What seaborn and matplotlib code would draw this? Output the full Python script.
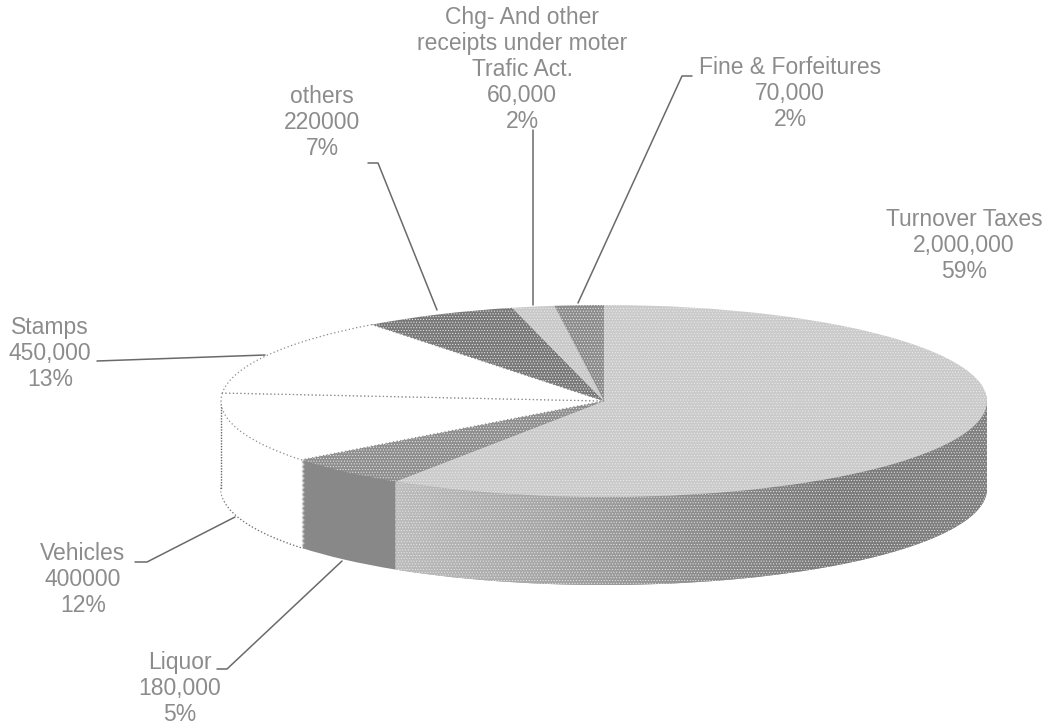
import numpy as np
import matplotlib
matplotlib.use("Agg")
import matplotlib.pyplot as plt
import seaborn as sns
from matplotlib.patches import Polygon

sns.set_style("white")
plt.rcParams["font.family"] = ["Liberation Sans", "DejaVu Sans"]
plt.rcParams["hatch.linewidth"] = 0.4

# revenue heads, clockwise from 12 o'clock
names = ["Turnover Taxes", "Liquor", "Vehicles", "Stamps", "others",
         "Chg- And other\nreceipts under moter\nTrafic Act.", "Fine & Forfeitures"]
amounts = [2000000, 180000, 400000, 450000, 220000, 60000, 70000]
amount_text = ["2,000,000", "180,000", "400000", "450,000", "220000", "60,000", "70,000"]
pct_text = ["59%", "5%", "12%", "13%", "7%", "2%", "2%"]
top_colors = ["#cacaca", "#8e8e8e", "#ffffff", "#ffffff", "#787878", "#c8c8c8", "#8c8c8c"]
side_colors = ["#a0a0a0", "#888888", "#ffffff", "#ffffff", "#ffffff", "#ffffff", "#ffffff"]

# label centres in pixels (x, y of first line)
label_x = [964, 180, 83, 50, 322, 522, 790]
label_y = [219, 662, 553, 327, 96, 17, 67]

# leader lines in pixels
leaders = [
    ([217, 227, 342], [669, 669, 561]),
    ([135, 147, 235], [562, 562, 517]),
    ([97, 265], [361, 355]),
    ([368, 378, 437], [163, 163, 310]),
    ([533, 533], [130, 305]),
    ([692, 682, 578], [76, 76, 303]),
]

W, H = 1056, 725
cx, cy, rx, ry, depth = 604, 401, 383, 96, 88
d = depth / ry
pad = 0.05

fig = plt.figure(figsize=(W / 100, H / 100), dpi=100, facecolor="white")

left = (cx - (1 + pad) * rx) / W
bottom = 1 - (cy + (1 + d + pad) * ry) / H
ax = fig.add_axes([left, bottom, 2 * (1 + pad) * rx / W, (2 + d + 2 * pad) * ry / H])

# side wall: stacked copies of the pie going down
for k in np.linspace(1, 0, 70)[:-1]:
    wedges, _ = ax.pie(amounts, startangle=90, counterclock=False, colors=side_colors,
                       radius=1, center=(0, -k * d), wedgeprops={"linewidth": 0})
    if k == 1:
        for w, c in zip(wedges, side_colors):
            if c == "#ffffff":
                w.set(edgecolor="#777777", linewidth=1.0, linestyle=(0, (1, 1.5)))

# shading on the turnover wall, light to dark going right
end = np.radians(360 * amounts[0] / sum(amounts))
t = np.linspace(np.pi / 2, end, 120)
wall = np.r_[np.c_[np.sin(t), np.cos(t)], np.c_[np.sin(t[::-1]), np.cos(t[::-1]) - d]]
shade = sns.blend_palette(["#bcbcbc", "#a6a6a6", "#8e8e8e", "#7a7a7a", "#808080"], as_cmap=True)
grad = np.linspace(0, 1, 256).reshape(1, -1)
im = ax.imshow(grad, extent=(np.sin(end), 1, -1 - d, 0), cmap=shade, aspect="auto", zorder=3)
im.set_clip_path(Polygon(wall, transform=ax.transData))

# stipple over the wall
ax.add_patch(Polygon(wall, facecolor="none", edgecolor="#e8e8e8", hatch="......", linewidth=0, zorder=3.5))

# top face
wedges, _ = ax.pie(amounts, startangle=90, counterclock=False, colors=top_colors,
                   radius=1, center=(0, 0), wedgeprops={"linewidth": 0})
for w, c in zip(wedges, top_colors):
    w.set_zorder(5)
    if c == "#ffffff":
        w.set(edgecolor="#8a8a8a", linewidth=0.9, linestyle=(0, (1, 2)))
    else:
        w.set(edgecolor="#eeeeee", hatch="......", linewidth=0)

# dotted silhouette on the white side
ax.plot([-1, -1], [0, -d], color="#666666", lw=1.0, ls=(0, (1, 1)), zorder=4)

ax.set_aspect("auto")
ax.set_xlim(-1 - pad, 1 + pad)
ax.set_ylim(-1 - d - pad, 1 + pad)
ax.axis("off")

# overlay in pixel coordinates for labels and leader lines
ov = fig.add_axes([0, 0, 1, 1])
ov.set_xlim(0, W)
ov.set_ylim(H, 0)
ov.axis("off")
ov.patch.set_alpha(0)

for xs, ys in leaders:
    ov.plot(xs, ys, color="#6a6a6a", lw=1.1)

for name, amt, pct, x, y in zip(names, amount_text, pct_text, label_x, label_y):
    ov.text(x, y - 11, name + "\n" + amt + "\n" + pct, ha="center", va="top",
            fontsize=16.5, color="#8c8c8c", linespacing=1.17, clip_on=True)

fig.savefig("out.png", dpi=100)
